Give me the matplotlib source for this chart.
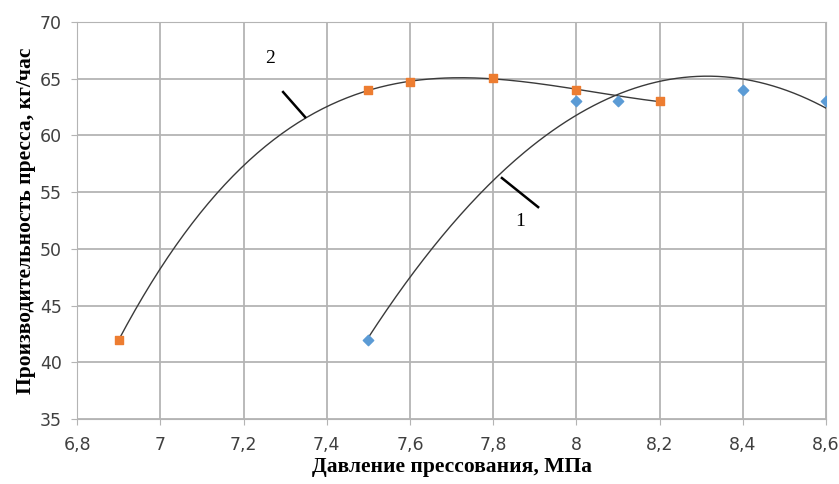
import numpy as np
import matplotlib.pyplot as plt
from matplotlib.ticker import FuncFormatter, MultipleLocator

# данные серий (давление, МПа -> производительность, кг/час)
x1 = [7.5, 8.0, 8.1, 8.4, 8.6]
y1 = [42, 63, 63, 64, 63]
x2 = [6.9, 7.5, 7.6, 7.8, 8.0, 8.2]
y2 = [42, 64, 64.7, 65.1, 64, 63]

fig = plt.figure(figsize=(8.39, 4.84), dpi=100)
ax = fig.add_axes([0.092, 0.134, 0.8925, 0.8205])

# линии тренда (полиномиальная аппроксимация)
xx1 = np.linspace(min(x1), max(x1), 200)
ax.plot(xx1, np.polyval(np.polyfit(x1, y1, 2), xx1), color='#3a3a3a', lw=1.0, zorder=3)
xx2 = np.linspace(min(x2), max(x2), 200)
ax.plot(xx2, np.polyval(np.polyfit(x2, y2, 3), xx2), color='#3a3a3a', lw=1.0, zorder=3)

ax.scatter(x1, y1, marker='D', s=28, color='#5b9bd5', zorder=4)
ax.scatter(x2, y2, marker='s', s=40, color='#ed7d31', zorder=4)

# подписи кривых
ax.text(7.264, 66.8, '2', fontsize=14, family='Liberation Serif', ha='center', va='center')
ax.plot([7.295, 7.348], [63.83, 61.62], color='black', lw=1.8, zorder=3)
ax.text(7.865, 52.4, '1', fontsize=14, family='Liberation Serif', ha='center', va='center')
ax.plot([7.821, 7.908], [56.25, 53.69], color='black', lw=1.8, zorder=3)

ax.set_xlim(6.8, 8.6)
ax.set_ylim(35, 70)
ax.xaxis.set_major_locator(MultipleLocator(0.2))
ax.yaxis.set_major_locator(MultipleLocator(5))
ax.xaxis.set_major_formatter(FuncFormatter(lambda v, p: ('%g' % round(v, 1)).replace('.', ',')))
ax.grid(True, color='#b4b4b4', lw=1.3)
ax.set_axisbelow(True)
for s in ax.spines.values():
    s.set_color('#b4b4b4')
ax.tick_params(colors='#b4b4b4', labelcolor='#404040', labelsize=12.5, length=4)
ax.tick_params(axis='x', pad=8)
ax.tick_params(axis='y', pad=7)

ax.set_xlabel('Давление прессования, МПа', family='Liberation Serif', fontweight='bold', fontsize=15.5, labelpad=2)
ax.set_ylabel('Производительность пресса, кг/час', family='Liberation Serif', fontweight='bold', fontsize=15.5, labelpad=3)

fig.savefig('out.png', dpi=100)
